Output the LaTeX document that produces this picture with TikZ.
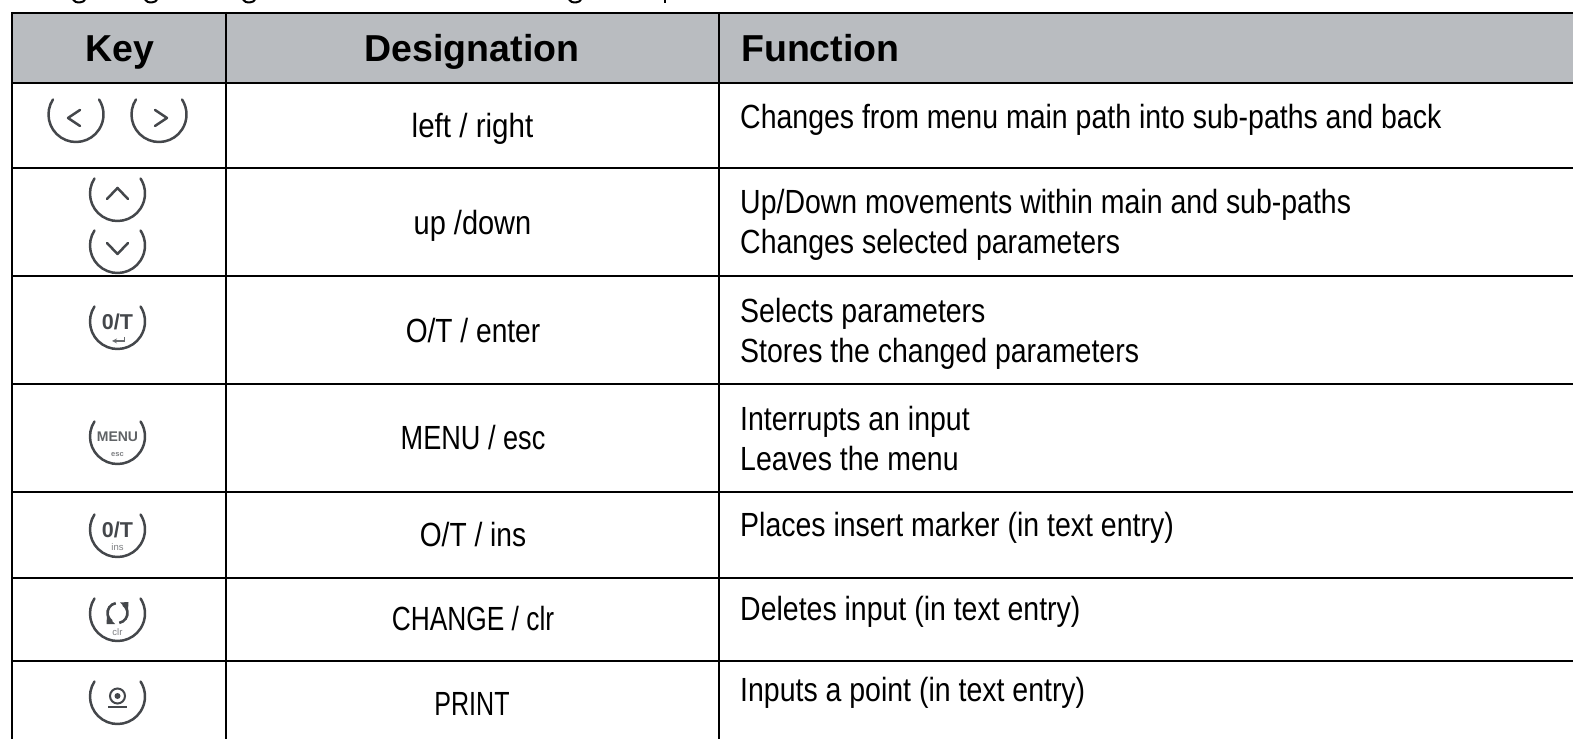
\documentclass[tikz,border=0pt]{standalone}
\usepackage{fontspec}
\setmainfont{Liberation Sans}
\newfontfamily\narrowfont[FakeStretch=0.84]{Liberation Sans}
\newfontfamily\funcfont[FakeStretch=0.85]{Liberation Sans}
\definecolor{headgrey}{HTML}{B9BCC0}
\definecolor{icongrey}{HTML}{44474B}
\tikzset{
  rule/.style={line width=2.1pt,black},
  headtext/.style={inner sep=0pt,anchor=base,font=\fontsize{37.5}{40}\selectfont\bfseries},
  celltext/.style={inner sep=0pt,anchor=base,font=\fontsize{33.5}{38}\selectfont\narrowfont},
  functext/.style={inner sep=0pt,anchor=base west,font=\fontsize{33.5}{38}\selectfont\funcfont},
  iconline/.style={line width=2.5pt,icongrey,line cap=round,line join=round},
  iconbold/.style={inner sep=0pt,icongrey,font=\fontsize{21.5}{23}\selectfont\bfseries},
  iconsmall/.style={inner sep=0pt,icongrey!70,font=\fontsize{9.5}{10}\selectfont}
}
% \keyarc{name}{cx}{bottom y}
\newcommand{\keyarc}[3]{%
  \coordinate (#1) at (#2,#3+27.5);
  \draw[iconline] (#1) ++(147:27.5) arc[start angle=147,end angle=393,radius=27.5];
}
\begin{document}
\begin{tikzpicture}[x=1pt,y=1pt]
\useasboundingbox (0,0) rectangle (1573,739);
\begin{scope}[yshift=739pt]
\clip (0,0) rectangle (1573,-739);
% cut-off descenders of the line above the table
\foreach \gx in {79,151,249,575}{
  \draw[line width=2pt] (\gx-6,0.5) arc[start angle=190,end angle=350,x radius=6.1,y radius=3.6];
}
\draw[line width=2.4pt] (665,0) -- (665,-3);
% header
\fill[headgrey] (12,-13) rectangle (1573,-83);
% rules
\foreach \ry in {-13,-83,-168,-276,-384,-492,-578,-661}{
  \draw[rule] (12,\ry) -- (1573,\ry);
}
\draw[rule] (12,-12) -- (12,-739);
\draw[rule] (226,-12) -- (226,-739);
\draw[rule] (719,-12) -- (719,-739);
% header text
\node[headtext] (hkey) at (119.5,-62) {Key};
\node[headtext] (hdes) at (472,-62) {Designation};
\node[headtext,anchor=base west] (hfun) at (741,-62) {Function};
% designation
\node[celltext] (d1) at (472.5,-137.3) {\scalebox{1.05}[1]{left / right}};
\node[celltext] (d2) at (472.5,-235) {\scalebox{1.03}[1]{up /down}};
\node[celltext] (d3) at (473,-342.5) {O/T / enter};
\node[celltext] (d4) at (473,-450) {\scalebox{0.964}[1]{MENU / esc}};
\node[celltext] (d5) at (473,-546.5) {O/T / ins};
\node[celltext] (d6) at (473,-630.5) {\scalebox{0.935}[1]{CHANGE / clr}};
\node[celltext] (d7) at (472,-715) {\scalebox{0.89}[1]{PRINT}};
% function
\node[functext] (f1) at (740,-128.5) {Changes from menu main path into sub-paths and back};
\node[functext] (f2a) at (740,-214) {Up/Down movements within main and sub-paths};
\node[functext] (f2b) at (740,-254) {Changes selected parameters};
\node[functext] (f3a) at (740,-323) {Selects parameters};
\node[functext] (f3b) at (740,-363) {Stores the changed parameters};
\node[functext] (f4a) at (740,-431) {Interrupts an input};
\node[functext] (f4b) at (740,-471) {Leaves the menu};
\node[functext] (f5) at (740,-537) {Places insert marker (in text entry)};
\node[functext] (f6) at (740,-620) {Deletes input (in text entry)};
\node[functext] (f7) at (740,-701) {Inputs a point (in text entry)};
% key icons
\keyarc{kl}{76}{-142}
\draw[iconline] (80,-110) -- (68,-118) -- (80,-126);
\keyarc{kr}{159}{-142}
\draw[iconline] (155,-110) -- (167,-118) -- (155,-126);
\keyarc{ku}{117.5}{-221}
\draw[iconline] (107,-199) -- (117.5,-188) -- (128,-199);
\keyarc{kd}{117.5}{-273}
\draw[iconline] (107,-243) -- (117.5,-254) -- (128,-243);
% 0/T enter
\keyarc{ke}{117.5}{-349}
\node[iconbold] (ket) at (117.5,-322) {0/T};
\draw[line width=1.2pt,icongrey!80,-stealth] (124.5,-337) -- (124.5,-341) -- (112,-341);
% MENU esc
\keyarc{km}{117.5}{-464}
\node[iconbold,font=\fontsize{14}{15}\selectfont\bfseries,icongrey!85] (kmt) at (117.5,-437) {MENU};
\node[iconsmall,font=\fontsize{7.5}{8}\selectfont\bfseries] (kme) at (117.5,-454.5) {esc};
% 0/T ins
\keyarc{ki}{117.5}{-557}
\node[iconbold] (kit) at (117.5,-530) {0/T};
\node[iconsmall] (kis) at (117.5,-547) {ins};
% change clr
\keyarc{kc}{117.5}{-641}
\coordinate (kcc) at (117.5,-613);
\draw[line width=2.6pt,icongrey] (kcc) ++(100:10) arc[start angle=100,end angle=235,radius=10];
\draw[line width=2.6pt,icongrey] (kcc) ++(280:10) arc[start angle=280,end angle=415,radius=10];
\fill[icongrey] (120,-602.5) -- (128.5,-602) -- (128,-610.5) -- cycle;
\fill[icongrey] (115,-624) -- (106.5,-624) -- (107,-615.5) -- cycle;
\node[iconsmall] (kct) at (117.5,-632) {clr};
% print
\keyarc{kp}{117.5}{-724}
\draw[line width=2pt,icongrey] (117.5,-696) circle[radius=7.5];
\fill[icongrey] (117.5,-696) circle[radius=3];
\draw[line width=2pt,icongrey] (108,-707) -- (127,-707);
\end{scope}
\end{tikzpicture}
\end{document}
